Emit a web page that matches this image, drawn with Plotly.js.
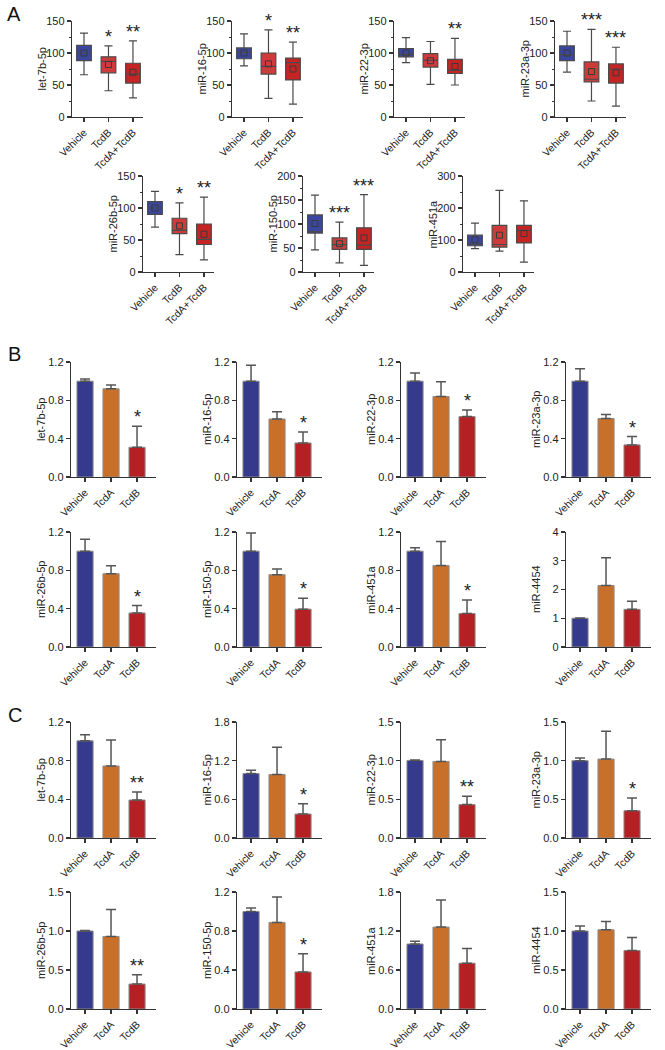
<!DOCTYPE html>
<html><head><meta charset="utf-8">
<script src="https://cdn.plot.ly/plotly-3.0.1.min.js"></script>
<style>body{margin:0;background:#fff}#chart{width:665px;height:1050px}</style>
</head><body><div id="chart"></div><script>
// ---------- Panel A: box plots ----------
const boxGroups = ['Vehicle', 'TcdB', 'TcdA+TcdB'];
const boxGenes = ['let-7b-5p', 'miR-16-5p', 'miR-22-3p', 'miR-23a-3p', 'miR-26b-5p', 'miR-150-5p', 'miR-451a'];
const boxUpper  = [[131, 111, 119], [130, 136, 117], [124, 118, 123], [134, 137, 109], [126, 108, 117], [160, 104, 161], [153, 255, 222]];
const boxQ3     = [[112, 94, 84],   [108, 100, 92],  [107, 99, 90],   [111, 86, 83],   [110, 84, 75],   [119, 71, 92],   [115, 146, 146]];
const boxMedian = [[100, 87, 67],   [101, 79, 85],   [98, 89, 73],    [97, 59, 75],    [100, 65, 51],   [84, 57, 56],    [87, 86, 130]];
const boxQ1     = [[88, 69, 53],    [91, 67, 58],    [94, 78, 68],    [88, 55, 53],    [90, 60, 43],    [81, 47, 47],    [82, 78, 91]];
const boxLower  = [[66, 41, 30],    [80, 29, 20],    [85, 51, 50],    [70, 25, 17],    [70, 27, 19],    [46, 19, 14],    [73, 65, 31]];
const boxMean   = [[100, 82, 70],   [100, 83, 75],   [100, 88, 79],   [100, 71, 69],   [100, 72, 59],   [101, 59, 71],   [101, 115, 120]];
const boxStars  = [['', '*', '**'], ['', '*', '**'], ['', '', '**'], ['', '***', '***'], ['', '*', '**'], ['', '***', '***'], ['', '', '']];
const boxYMax   = [150, 150, 150, 150, 150, 200, 300];
const boxDtick  = [50, 50, 50, 50, 50, 50, 100];

// ---------- Panels B and C: bar charts ----------
const barGroups = ['Vehicle', 'TcdA', 'TcdB'];
const barGenes = ['let-7b-5p', 'miR-16-5p', 'miR-22-3p', 'miR-23a-3p', 'miR-26b-5p', 'miR-150-5p', 'miR-451a', 'miR-4454'];

const meanB  = [[1.0, 0.92, 0.31], [1.0, 0.605, 0.355], [1.0, 0.84, 0.63], [1.0, 0.61, 0.335], [1.0, 0.765, 0.355], [1.0, 0.755, 0.395], [1.0, 0.85, 0.35], [1.0, 2.14, 1.31]];
const errB   = [[0.022, 0.04, 0.22], [0.165, 0.075, 0.115], [0.086, 0.155, 0.07], [0.13, 0.043, 0.087], [0.124, 0.083, 0.078], [0.19, 0.058, 0.113], [0.035, 0.25, 0.14], [0.01, 0.96, 0.28]];
const starsB = [['', '', '*'], ['', '', '*'], ['', '', '*'], ['', '', '*'], ['', '', '*'], ['', '', '*'], ['', '', '*'], ['', '', '']];
const yMaxB  = [1.2, 1.2, 1.2, 1.2, 1.2, 1.2, 1.2, 4];
const dtickB = [0.4, 0.4, 0.4, 0.4, 0.4, 0.4, 0.4, 1];

const meanC  = [[1.005, 0.745, 0.393], [1.0, 0.985, 0.372], [1.003, 0.99, 0.432], [1.0, 1.02, 0.353], [1.0, 0.93, 0.32], [1.0, 0.888, 0.38], [1.0, 1.26, 0.705], [1.0, 1.016, 0.75]];
const errC   = [[0.064, 0.27, 0.083], [0.05, 0.425, 0.16], [0.005, 0.28, 0.107], [0.034, 0.36, 0.165], [0.005, 0.345, 0.12], [0.035, 0.26, 0.186], [0.042, 0.417, 0.225], [0.065, 0.107, 0.167]];
const starsC = [['', '', '**'], ['', '', '*'], ['', '', '**'], ['', '', '*'], ['', '', '**'], ['', '', '*'], ['', '', ''], ['', '', '']];
const yMaxC  = [1.2, 1.8, 1.5, 1.5, 1.5, 1.2, 1.8, 1.5];
const dtickC = [0.4, 0.6, 0.5, 0.5, 0.5, 0.4, 0.6, 0.5];

// ---------- styling / geometry ----------
const W = 665, H = 1050;
const FONT = 'Liberation Sans, Arial, sans-serif';
const TXT = '#222';
const boxFill = ['#3a46a0', '#cf3b3b', '#c42424'];
const barFill = ['#363a8c', '#c8702a', '#b52025'];
const boxPos = [[72, 21], [232, 21], [394, 21], [555, 21], [143, 176], [303, 176], [463, 176]];
const boxW = 71, boxH = 96;
const barLefts = [71, 237, 401, 566];
const barW = 85;
const barRowsB = [[362, 115], [532, 115]];
const barRowsC = [[722, 116], [892, 117]];

const data = [];
const annotations = [];
const layout = {
  width: W, height: H, margin: {l: 0, r: 0, t: 0, b: 0},
  paper_bgcolor: '#fff', plot_bgcolor: '#fff', showlegend: false,
  font: {family: FONT, color: TXT, size: 11},
  boxmode: 'overlay', barmode: 'overlay', bargap: 0,
  annotations: annotations
};

let n = 0;
function addAxes(left, top, w, h, cats, xr, yMax, dtick, fmt, title, minor) {
  n += 1;
  const xk = n === 1 ? 'xaxis' : 'xaxis' + n;
  const yk = n === 1 ? 'yaxis' : 'yaxis' + n;
  layout[xk] = {
    domain: [left / W, (left + w) / W], anchor: 'y' + (n === 1 ? '' : n),
    type: 'category', categoryorder: 'array', categoryarray: cats, range: xr,
    showline: true, linecolor: '#333', linewidth: 1.3, ticks: 'outside', ticklen: 4, tickwidth: 1.2, tickcolor: '#333',
    tickangle: -45, tickfont: {size: 10.5, family: FONT, color: TXT}, showgrid: false, zeroline: false, fixedrange: true
  };
  const ya = {
    domain: [1 - (top + h) / H, 1 - top / H], anchor: 'x' + (n === 1 ? '' : n),
    range: [0, yMax], dtick: dtick, tick0: 0, tickformat: fmt,
    showline: true, linecolor: '#333', linewidth: 1.3, ticks: 'outside', ticklen: 4, tickwidth: 1.2, tickcolor: '#333',
    tickfont: {size: 11, family: FONT, color: TXT}, showgrid: false, zeroline: false, fixedrange: true
  };
  if (minor) ya.minor = {dtick: dtick / 2, ticks: 'outside', ticklen: 2, tickwidth: 1, tickcolor: '#333', showgrid: false};
  layout[yk] = ya;
  // y-axis title placed at a fixed distance left of the axis line
  annotations.push({xref: 'paper', yref: 'paper', x: (left - 30.5) / W, y: 1 - (top + h / 2) / H,
    text: title, textangle: -90, showarrow: false, xanchor: 'center', yanchor: 'middle',
    font: {size: 11, family: FONT, color: TXT}});
  return {x: 'x' + (n === 1 ? '' : n), y: 'y' + (n === 1 ? '' : n)};
}

function addStar(ax, cat, yVal, txt) {
  if (!txt) return;
  annotations.push({xref: ax.x, yref: ax.y, x: cat, y: yVal, text: txt, showarrow: false,
    yanchor: 'bottom', yshift: -3, font: {size: 18, family: FONT, color: TXT}});
}

// Panel A
boxGenes.forEach((g, i) => {
  const [left, top] = boxPos[i];
  const ax = addAxes(left, top, boxW, boxH, boxGroups, [-0.49, 2.41], boxYMax[i], boxDtick[i], 'd', g, true);
  boxGroups.forEach((grp, j) => {
    data.push({type: 'box', x: [grp], q1: [boxQ1[i][j]], median: [boxMedian[i][j]], q3: [boxQ3[i][j]],
      lowerfence: [boxLower[i][j]], upperfence: [boxUpper[i][j]],
      fillcolor: boxFill[j], line: {color: '#4a4a4a', width: 1.2}, width: 0.6, whiskerwidth: 0.55,
      boxpoints: false, xaxis: ax.x, yaxis: ax.y, hoverinfo: 'skip'});
    addStar(ax, grp, boxUpper[i][j], boxStars[i][j]);
  });
  data.push({type: 'scatter', mode: 'markers', x: boxGroups, y: boxMean[i], xaxis: ax.x, yaxis: ax.y,
    marker: {symbol: 'square-open', size: 6, color: '#3a3a3a', line: {width: 1}}, hoverinfo: 'skip'});
});

// Panels B, C
function barPanel(rows, means, errs, stars, yMaxs, dticks) {
  barGenes.forEach((g, i) => {
    const [top, h] = rows[Math.floor(i / 4)];
    const left = barLefts[i % 4];
    const fmt = dticks[i] >= 1 ? 'd' : '.1f';
    const ax = addAxes(left, top, barW, h, barGroups, [-0.54, 2.73], yMaxs[i], dticks[i], fmt, g, false);
    data.push({type: 'bar', x: barGroups, y: means[i], width: 0.62, xaxis: ax.x, yaxis: ax.y,
      marker: {color: barFill, line: {color: '#8a8a8a', width: 1}},
      error_y: {type: 'data', symmetric: false, array: errs[i], arrayminus: [0, 0, 0], color: '#555', thickness: 1.5, width: 5},
      hoverinfo: 'skip'});
    barGroups.forEach((grp, j) => addStar(ax, grp, means[i][j] + errs[i][j], stars[i][j]));
  });
}
barPanel(barRowsB, meanB, errB, starsB, yMaxB, dtickB);
barPanel(barRowsC, meanC, errC, starsC, yMaxC, dtickC);

// Panel letters
[['A', 14, 14], ['B', 14, 354], ['C', 15, 715]].forEach(([t, x, y]) => {
  annotations.push({xref: 'paper', yref: 'paper', x: x / W, y: 1 - y / H, text: t, showarrow: false,
    xanchor: 'center', yanchor: 'middle', font: {size: 20, family: FONT, color: '#111'}});
});

Plotly.newPlot('chart', data, layout, {staticPlot: true, displayModeBar: false});
</script></body></html>
